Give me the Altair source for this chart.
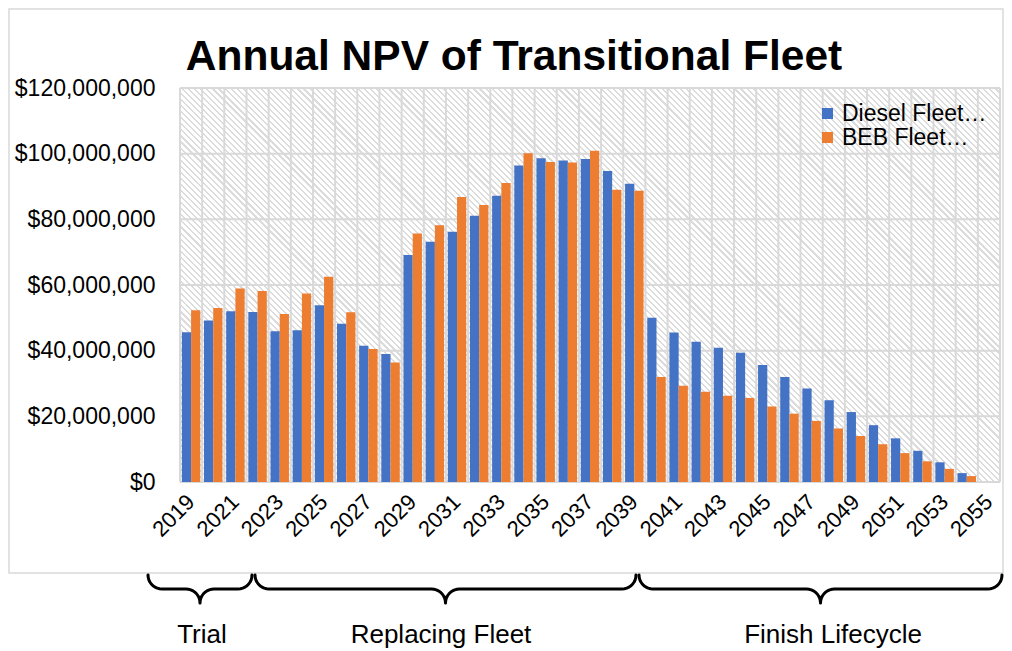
import altair as alt
import pandas as pd
import numpy as np

# ---------------- data ----------------
years = list(range(2019, 2056))
diesel_musd = [45.6, 49.2, 52.0, 51.8, 45.9, 46.2, 53.8, 48.2, 41.5, 39.0,
               69.1, 73.2, 76.2, 81.1, 87.2, 96.4, 98.6, 97.9, 98.4, 94.7, 90.8,
               50.0, 45.5, 42.7, 40.9, 39.4, 35.6, 32.0, 28.5, 24.9, 21.3, 17.3,
               13.3, 9.5, 6.0, 2.7, 0.0]
beb_musd = [52.3, 53.0, 58.9, 58.2, 51.2, 57.4, 62.5, 51.7, 40.5, 36.4,
            75.7, 78.2, 86.8, 84.4, 91.1, 100.1, 97.5, 97.3, 100.9, 89.0, 88.7,
            32.0, 29.3, 27.5, 26.3, 25.6, 23.0, 20.8, 18.6, 16.3, 14.0, 11.5,
            8.8, 6.3, 4.0, 1.8, 0.0]
fleets = ["Diesel Fleet…", "BEB Fleet…"]
y_ticks_musd = [0, 20, 40, 60, 80, 100, 120]
x_label_years = years[::2]
title_text = "Annual NPV of Transitional Fleet"
phase_labels = ["Trial", "Replacing Fleet", "Finish Lifecycle"]

# ---------------- styling / layout ----------------
colors = ["#4472C4", "#ED7D31"]
FONT = "Liberation Sans"
W, H = 820, 394
PAD = {"left": 172, "top": 80, "right": 4, "bottom": 169}
OX, OY = 8 + PAD["left"], 8 + PAD["top"]   # page position of plot origin
RIGHT_EDGE = 8 + PAD["left"] + W + PAD["right"]
GRID = "#d9d9d9"

rows = []
for i, yr in enumerate(years):
    rows.append({"year": yr, "fleet": fleets[0], "value": diesel_musd[i] * 1e6})
    rows.append({"year": yr, "fleet": fleets[1], "value": beb_musd[i] * 1e6})
df = pd.DataFrame(rows)

x_scale = alt.Scale(paddingInner=0, paddingOuter=0)
x_axis = alt.Axis(values=x_label_years, labelAngle=315, labelAlign="right",
                  labelBaseline="middle", labelFontSize=22, labelFont=FONT,
                  labelColor="black", ticks=False, tickSize=0, domain=False,
                  grid=False, labelPadding=16, labelOverlap=False, title=None)
y_scale = alt.Scale(domain=[0, 120e6], nice=False)
y_axis = alt.Axis(values=[v * 1e6 for v in y_ticks_musd], format="$,.0f",
                  labelFontSize=23, labelFont=FONT, labelColor="black",
                  ticks=False, tickSize=0, domain=False, grid=False,
                  labelPadding=25, title=None)

one = alt.Data(values=[{"k": 1}])

# chart frame
frame = alt.Chart(one).mark_rect(fillOpacity=0, stroke=GRID, strokeWidth=1.5).encode(
    x=alt.value(8 - OX + 1), x2=alt.value(RIGHT_EDGE - 1 - OX),
    y=alt.value(8 - OY + 1), y2=alt.value(573 - OY))

# hatched plot background via striped gradient
r = H / W
s = (1 + r) / (1 + r * r)
n_str = 200
stops = []
for k in range(n_str):
    a = k / n_str
    b = (k + 0.35) / n_str
    c = (k + 1) / n_str
    stops += [alt.GradientStop(offset=a, color="#dcdcdc"),
              alt.GradientStop(offset=b, color="#dcdcdc"),
              alt.GradientStop(offset=b, color="#ffffff"),
              alt.GradientStop(offset=c, color="#ffffff")]
hatch_fill = alt.LinearGradient(gradient="linear", stops=stops,
                                x1=0, y1=1, x2=s, y2=1 - r * s)
hatch = alt.Chart(one).mark_rect(fill=hatch_fill).encode(
    x=alt.value(0), x2=alt.value("width"), y=alt.value(0), y2=alt.value("height"))

# gridlines
hgrid = alt.Chart(pd.DataFrame({"value": [v * 1e6 for v in y_ticks_musd]})).mark_rule(
    color=GRID, strokeWidth=2).encode(
    y=alt.Y("value:Q", scale=y_scale, axis=y_axis), x=alt.value(0), x2=alt.value("width"))
vgrid = alt.Chart(pd.DataFrame({"year": years})).mark_rule(
    color=GRID, strokeWidth=2).encode(
    x=alt.X("year:O", scale=x_scale, axis=x_axis, bandPosition=0),
    y=alt.value(0), y2=alt.value("height"))
vright = alt.Chart(one).mark_rule(color=GRID, strokeWidth=2).encode(
    x=alt.value("width"), y=alt.value(0), y2=alt.value("height"))

# bars
bars = alt.Chart(df).mark_bar().encode(
    x=alt.X("year:O", scale=x_scale, axis=x_axis),
    xOffset=alt.XOffset("fleet:N", sort=fleets,
                        scale=alt.Scale(paddingInner=0, paddingOuter=0.2)),
    y=alt.Y("value:Q", scale=y_scale, axis=y_axis),
    color=alt.Color("fleet:N", sort=fleets,
                    scale=alt.Scale(domain=fleets, range=colors),
                    legend=alt.Legend(orient="none", legendX=636, legendY=14,
                                      title=None, symbolType="square",
                                      symbolSize=121, symbolStrokeWidth=0,
                                      labelFontSize=23, labelFont=FONT,
                                      labelColor="black", labelOffset=3,
                                      rowPadding=0, padding=0)),
)

# braces under the chart
brace_spans = [(148, 252), (255, 636), (639, RIGHT_EDGE - 2)]
brace_top, rad = 575, 14
brows = []
for bi, (x0, x1) in enumerate(brace_spans):
    xm = (x0 + x1) / 2
    th = np.linspace(0, np.pi / 2, 10)
    left = [(x0 + rad - rad * np.cos(t), brace_top + rad * np.sin(t)) for t in th]
    left += [(xm - rad + rad * np.sin(t), brace_top + 2 * rad - rad * np.cos(t)) for t in th]
    right = [(2 * xm - px, py) for (px, py) in reversed(left[:-1])]
    for j, (px, py) in enumerate(left + right):
        brows.append({"brace": bi, "i": j, "px": px - OX, "py": py - OY})
braces = alt.Chart(pd.DataFrame(brows)).mark_line(
    color="black", strokeWidth=3, strokeJoin="round", strokeCap="round").encode(
    x=alt.X("px:Q", scale=None, axis=None),
    y=alt.Y("py:Q", scale=None, axis=None),
    detail="brace:N", order="i:Q")

label_x = [202, 441, 833]
phase = alt.Chart(pd.DataFrame({"label": phase_labels,
                                "px": [v - OX for v in label_x]})).mark_text(
    font=FONT, fontSize=26, color="black", align="center", baseline="alphabetic").encode(
    x=alt.X("px:Q", scale=None, axis=None), y=alt.value(643 - OY), text="label:N")

title = alt.Chart(one).mark_text(
    text=title_text, font=FONT, fontSize=42.5, fontWeight="bold", color="black",
    align="center", baseline="alphabetic").encode(
    x=alt.value(514 - OX), y=alt.value(70 - OY))

chart = alt.layer(frame, hatch, hgrid, vgrid, vright, bars, braces, phase, title).properties(
    width=W, height=H,
    autosize=alt.AutoSizeParams(type="none"),
    padding=PAD,
    background="white",
).configure_view(strokeWidth=0)

chart.save("out.html", embed_options={"renderer": "svg", "actions": False})
